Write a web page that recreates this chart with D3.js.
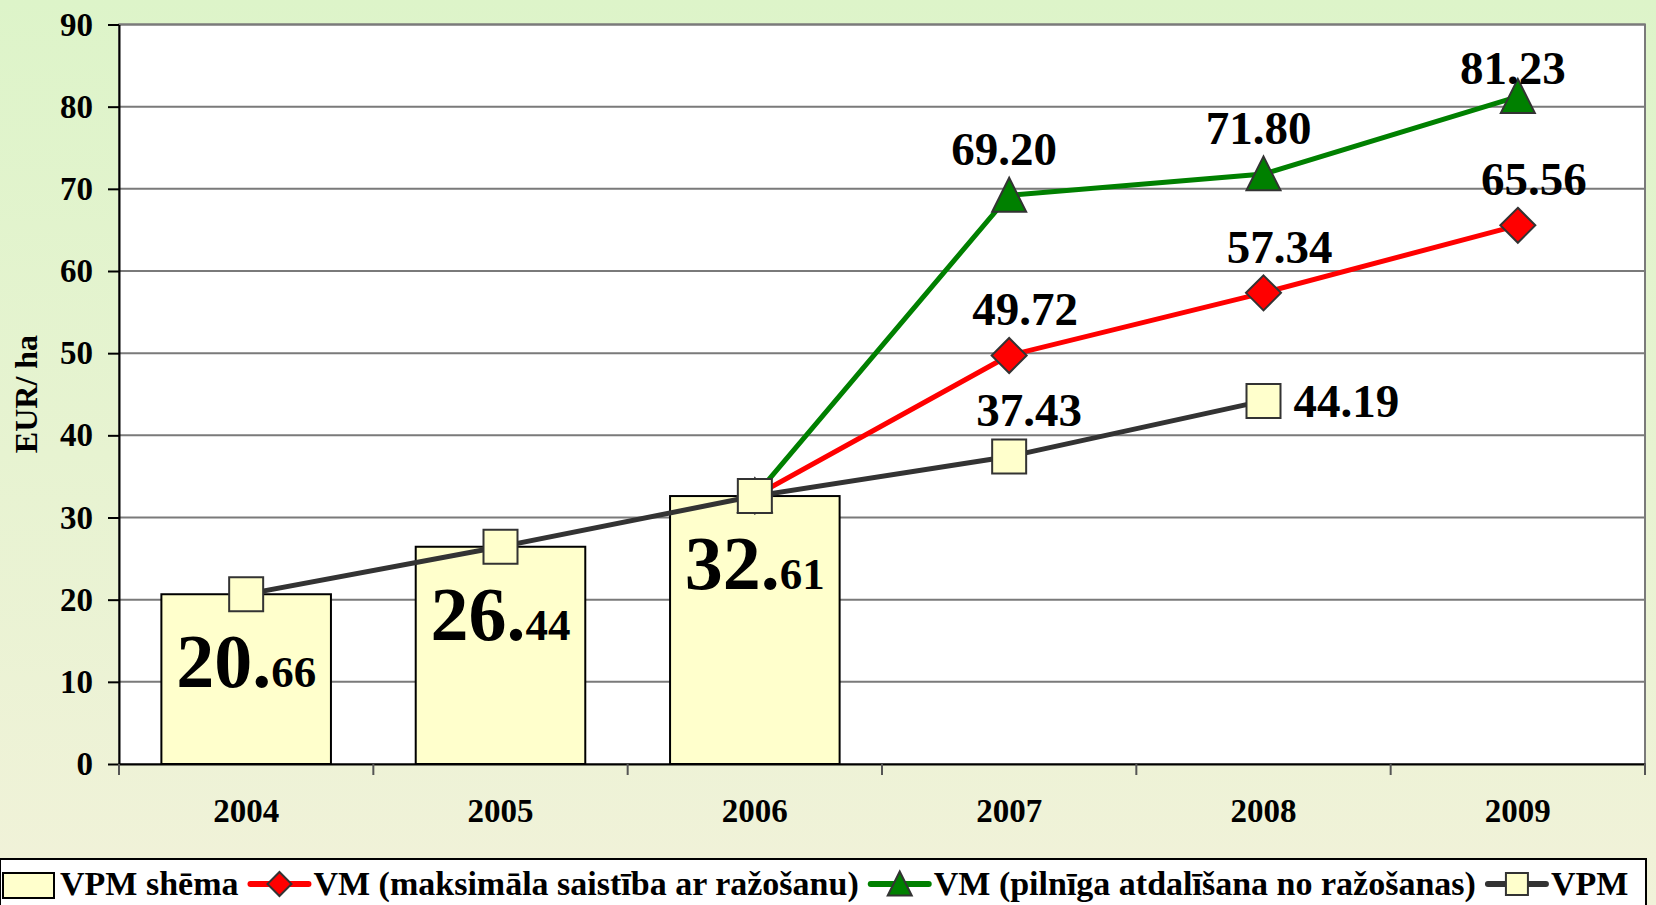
<!DOCTYPE html>
<meta charset="utf-8">
<style>
body { margin: 0; }
svg { display: block; font-family: "Liberation Serif", "Times New Roman", serif; font-weight: bold; }
.grid line { stroke: #7a7a7a; stroke-width: 2px; }
.axis--y path, .axis--y line { stroke: #000; stroke-width: 2px; }
.axis--x path { stroke: #000; stroke-width: 2px; }
.axis text { fill: #000; font-size: 33px; font-family: "Liberation Serif", "Times New Roman", serif; font-weight: bold; }
.bar { fill: #ffffcc; stroke: #000; stroke-width: 2px; }
.line { fill: none; stroke-width: 5px; }
.marker { stroke: #333; stroke-width: 2px; }
.label { font-size: 47px; fill: #000; }
.legend text { font-size: 34px; fill: #000; }
</style>
<svg width="1656" height="905"></svg>
<script src="https://d3js.org/d3.v7.min.js"></script>
<script>

var years = ["2004", "2005", "2006", "2007", "2008", "2009"];
var barValues = [20.66, 26.44, 32.61, null, null, null];
var vpmValues = [20.66, 26.44, 32.61, 37.43, 44.19, null];
var vmMaxValues = [null, null, 32.61, 49.72, 57.34, 65.56];
var vmFullValues = [null, null, 32.61, 69.20, 71.80, 81.23];
var yTicks = [0, 10, 20, 30, 40, 50, 60, 70, 80, 90];
var legendLabels = ["VPM shēma", "VM (maksimāla saistība ar ražošanu)", "VM (pilnīga atdalīšana no ražošanas)", "VPM"];

// where each line label goes (null = none)
var vpmLabelPos = [null, null, null, "above", "right", null];
var vmMaxLabelPos = [null, null, null, "above", "above", "above"];
var vmFullLabelPos = [null, null, null, "above", "above", "above"];

var svg = d3.select("svg"),
    plot = {left: 119, right: 1645, top: 24.5, bottom: 764};

var x = d3.scaleBand().domain(years)
    .range([plot.left, plot.right])
    .paddingInner(1 / 3).paddingOuter(1 / 6);
var y = d3.scaleLinear().domain([0, 90]).range([plot.bottom, plot.top]);
var cx = function(i) { return x(years[i]) + x.bandwidth() / 2; };

// background gradient
var grad = svg.append("defs").append("linearGradient")
    .attr("id", "bg").attr("x1", 0).attr("y1", 0).attr("x2", 0).attr("y2", 1);
grad.append("stop").attr("offset", "0%").attr("stop-color", "#ddf4c9");
grad.append("stop").attr("offset", "100%").attr("stop-color", "#f1f2d9");

svg.append("rect").attr("width", 1656).attr("height", 905).attr("fill", "url(#bg)");

svg.append("rect")
    .attr("x", plot.left).attr("y", plot.top)
    .attr("width", plot.right - plot.left).attr("height", plot.bottom - plot.top)
    .attr("fill", "#fff").attr("stroke", "#7a7a7a").attr("stroke-width", 2);

// gridlines
svg.append("g").attr("class", "grid")
  .selectAll("line").data(yTicks.slice(1)).join("line")
    .attr("x1", plot.left).attr("x2", plot.right)
    .attr("y1", function(d) { return y(d); }).attr("y2", function(d) { return y(d); });

// bars
var barData = years.map(function(yr, i) { return {i: i, v: barValues[i]}; })
    .filter(function(d) { return d.v != null; });

svg.append("g").selectAll("rect").data(barData).join("rect")
    .attr("class", "bar")
    .attr("x", function(d) { return x(years[d.i]); })
    .attr("width", x.bandwidth())
    .attr("y", function(d) { return y(d.v); })
    .attr("height", function(d) { return y(0) - y(d.v); });

// bar labels: big integer part, small decimals
var barLab = svg.append("g").selectAll("text").data(barData).join("text")
    .attr("x", function(d) { return cx(d.i); })
    .attr("y", function(d) { return y(d.v) + 93; })
    .attr("text-anchor", "middle");
barLab.append("tspan").style("font-size", "76px")
    .text(function(d) { return d.v.toFixed(2).split(".")[0] + "."; });
barLab.append("tspan").style("font-size", "45px")
    .text(function(d) { return d.v.toFixed(2).split(".")[1]; });

// marker shapes
var diamond = {
  draw: function(c, size) {
    var r = Math.sqrt(size) / 2;
    c.moveTo(0, -r); c.lineTo(r, 0); c.lineTo(0, r); c.lineTo(-r, 0); c.closePath();
  }
};
var triangle = {
  draw: function(c, size) {
    var w = Math.sqrt(size);
    c.moveTo(0, -w * 0.52); c.lineTo(w / 2, w * 0.48); c.lineTo(-w / 2, w * 0.48); c.closePath();
  }
};

var series = [
  {values: vmMaxValues, color: "#ff0000", fill: "#ff0000", type: diamond, size: 1225, pos: vmMaxLabelPos, dx: 16},
  {values: vmFullValues, color: "#008000", fill: "#008000", type: triangle, size: 1156, pos: vmFullLabelPos, dx: -5},
  {values: vpmValues, color: "#333333", fill: "#ffffcc", type: d3.symbolSquare, size: 1156, pos: vpmLabelPos, dx: 20}
];

var line = d3.line()
    .defined(function(d) { return d != null; })
    .x(function(d, i) { return cx(i); })
    .y(function(d) { return y(d); });

series.forEach(function(s) {
  svg.append("path").datum(s.values)
      .attr("class", "line")
      .attr("stroke", s.color)
      .attr("d", line);
});

// VPM markers drawn last so the 2006 square sits on top
series.forEach(function(s) {
  var pts = s.values.map(function(v, i) { return {i: i, v: v}; })
      .filter(function(d) { return d.v != null; });
  svg.append("g").selectAll("path").data(pts).join("path")
      .attr("class", "marker")
      .attr("fill", s.fill)
      .attr("transform", function(d) { return "translate(" + cx(d.i) + "," + y(d.v) + ")"; })
      .attr("d", d3.symbol().type(s.type).size(s.size));
});

// line labels
var labelTopLimit = plot.top + 59;
series.forEach(function(s) {
  var pts = s.values.map(function(v, i) { return {i: i, v: v, pos: s.pos[i]}; })
      .filter(function(d) { return d.v != null && d.pos; });
  svg.append("g").selectAll("text").data(pts).join("text")
      .attr("class", "label")
      .attr("text-anchor", function(d) { return d.pos === "right" ? "start" : "middle"; })
      .attr("x", function(d) { return d.pos === "right" ? cx(d.i) + 30 : cx(d.i) + s.dx; })
      .attr("y", function(d) {
        return d.pos === "right" ? y(d.v) + 16 : Math.max(y(d.v) - 30, labelTopLimit);
      })
      .text(function(d) { return d.v.toFixed(2); });
});

// axes
svg.append("g")
    .attr("class", "axis axis--y")
    .attr("transform", "translate(" + plot.left + ",0)")
    .call(d3.axisLeft(y).tickValues(yTicks).tickSize(11).tickPadding(15).tickSizeOuter(0));

svg.append("g")
    .attr("class", "axis axis--x")
    .attr("transform", "translate(0," + plot.bottom + ")")
    .call(d3.axisBottom(x).tickSize(0).tickPadding(35))
    .call(function(g) { g.selectAll(".tick line").remove(); });

svg.append("g").selectAll("line").data(d3.range(years.length + 1)).join("line")
    .attr("x1", function(i) { return plot.left + i * x.step(); })
    .attr("x2", function(i) { return plot.left + i * x.step(); })
    .attr("y1", plot.bottom).attr("y2", plot.bottom + 11)
    .attr("stroke", "#555").attr("stroke-width", 2);

// y title
svg.append("text")
    .attr("transform", "translate(37,394) rotate(-90)")
    .attr("text-anchor", "middle")
    .style("font-size", "32px")
    .text("EUR/ ha");

// legend
var legend = svg.append("g").attr("class", "legend");
legend.append("rect")
    .attr("x", 0).attr("y", 859).attr("width", 1646).attr("height", 60)
    .attr("fill", "#fff").attr("stroke", "#000").attr("stroke-width", 2);

var legendItems = [
  {kind: "bar"},
  {kind: "line", color: "#ff0000", fill: "#ff0000", type: diamond, size: 576},
  {kind: "line", color: "#008000", fill: "#008000", type: triangle, size: 576},
  {kind: "line", color: "#333333", fill: "#ffffcc", type: d3.symbolSquare, size: 484}
];

var lx = 2, ly = 884;
legendItems.forEach(function(it, i) {
  var g = legend.append("g");
  var w;
  if (it.kind === "bar") {
    w = 53;
    g.append("rect").attr("x", lx + 1).attr("y", ly - 11).attr("width", w - 2).attr("height", 25)
        .attr("fill", "#ffffcc").attr("stroke", "#000").attr("stroke-width", 2);
  } else {
    w = 58;
    g.append("line").attr("x1", lx).attr("x2", lx + w).attr("y1", ly).attr("y2", ly)
        .attr("stroke", it.color).attr("stroke-width", 6).attr("stroke-linecap", "round");
    g.append("path").attr("class", "marker").attr("fill", it.fill)
        .attr("transform", "translate(" + (lx + w / 2) + "," + ly + ")")
        .attr("d", d3.symbol().type(it.type).size(it.size));
  }
  var t = g.append("text").attr("x", lx + w + 5).attr("y", ly + 11).text(legendLabels[i]);
  lx += w + 5 + t.node().getComputedTextLength() + 12;
});

</script>
